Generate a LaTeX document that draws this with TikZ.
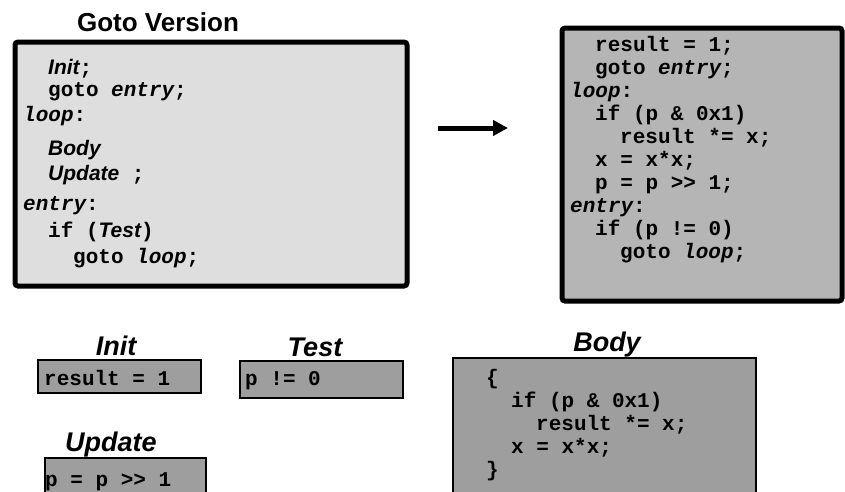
\documentclass[tikz,border=0pt]{standalone}
\usepackage{fontspec}
\setmainfont{Liberation Sans}
\setsansfont{Liberation Sans}
\newfontfamily\codefamily{Liberation Mono}
\usepackage{tikz}
\usetikzlibrary{positioning,arrows.meta}
\definecolor{gotogray}{gray}{0.87}
\definecolor{loopgray}{gray}{0.71}
\definecolor{partgray}{gray}{0.62}
\newcommand{\codefont}{\codefamily\bfseries\fontsize{21}{24}\selectfont}
\newcommand{\slot}[1]{{\sffamily\bfseries\itshape #1}}
\newcommand{\jump}[1]{{\itshape #1}}
\tikzstyle{bigbox} = [draw, line width=5pt, rounded corners=3pt, inner sep=0pt]
\tikzstyle{partbox} = [draw, line width=2.5pt, fill=partgray, inner sep=0pt]
\tikzstyle{codeline} = [anchor=base west, inner sep=0pt, font=\codefont]
\tikzstyle{heading} = [anchor=base, inner sep=0pt, font=\sffamily\bfseries\itshape\fontsize{27}{30}\selectfont]
\tikzstyle{rewrite} = [draw, line width=5pt, -{Triangle[length=15pt,width=15pt]}]

\begin{document}
\begin{tikzpicture}[x=1pt, y=-1pt]
	% page
	\useasboundingbox (0,0) rectangle (845,491);
	\clip (0,0) rectangle (845,491);

	% place boxes
	\node [bigbox, fill=gotogray, minimum width=392pt, minimum height=244pt] (gotobox) at (211,164) {};
	\node [bigbox, fill=loopgray, minimum width=280pt, minimum height=273pt] (loopbox) at (702,164.5) {};
	\node [partbox, minimum width=163pt, minimum height=33pt]  (initbox)   at (119.5,376.5) {};
	\node [partbox, minimum width=163pt, minimum height=37pt]  (testbox)   at (321.5,379.5) {};
	\node [partbox, minimum width=161pt, minimum height=60pt]  (updatebox) at (125.5,488) {};
	\node [partbox, minimum width=303pt, minimum height=160pt] (bodybox)   at (604.5,438) {};

	% titles
	\node [heading, font=\sffamily\bfseries\fontsize{26}{30}\selectfont] (title) at (158,31) {Goto Version};
	\node [heading] (initlbl)   at (116,355) {Init};
	\node [heading] (testlbl)   at (315,356) {Test};
	\node [heading] (updatelbl) at (111,451) {Update};
	\node [heading] (bodylbl)   at (607,351) {Body};

	% goto version
	\node [codeline] (g1) at (48,74)  {\slot{Init};};
	\node [codeline] (g2) at (48,96)  {goto \jump{entry};};
	\node [codeline] (g3) at (23,121) {\jump{loop}:};
	\node [codeline] (g4) at (48,155) {\slot{Body}};
	\node [codeline] (g5) at (48,180) {\slot{Update} ;};
	\node [codeline] (g6) at (23,210) {\jump{entry}:};
	\node [codeline] (g7) at (48,237) {if (\slot{Test})};
	\node [codeline] (g8) at (73,263) {goto \jump{loop};};

	% filled in version
	\node [codeline] (r1)  at (595,51)  {result = 1;};
	\node [codeline] (r2)  at (595,74)  {goto \jump{entry};};
	\node [codeline] (r3)  at (570,97)  {\jump{loop}:};
	\node [codeline] (r4)  at (595,120) {if (p \& 0x1)};
	\node [codeline] (r5)  at (620,143) {result *= x;};
	\node [codeline] (r6)  at (595,166) {x = x*x;};
	\node [codeline] (r7)  at (595,189) {p = p >> 1;};
	\node [codeline] (r8)  at (570,212) {\jump{entry}:};
	\node [codeline] (r9)  at (595,235) {if (p != 0)};
	\node [codeline] (r10) at (620,258) {goto \jump{loop};};

	% parts
	\node [codeline] (initcode)   at (44,385)  {result = 1};
	\node [codeline] (testcode)   at (245,385) {p != 0};
	\node [codeline] (updatecode) at (45,486)  {p = p >> 1};
	\node [codeline] (b1) at (486,384) {\{};
	\node [codeline] (b2) at (511,407) {if (p \& 0x1)};
	\node [codeline] (b3) at (536,430) {result *= x;};
	\node [codeline] (b4) at (511,453) {x = x*x;};
	\node [codeline] (b5) at (486,476) {\}};

	% draw arrow
	\coordinate (from) at (438,128);
	\coordinate (to)   at (508,128);
	\path [rewrite] (from) -- (to);
\end{tikzpicture}
\end{document}
